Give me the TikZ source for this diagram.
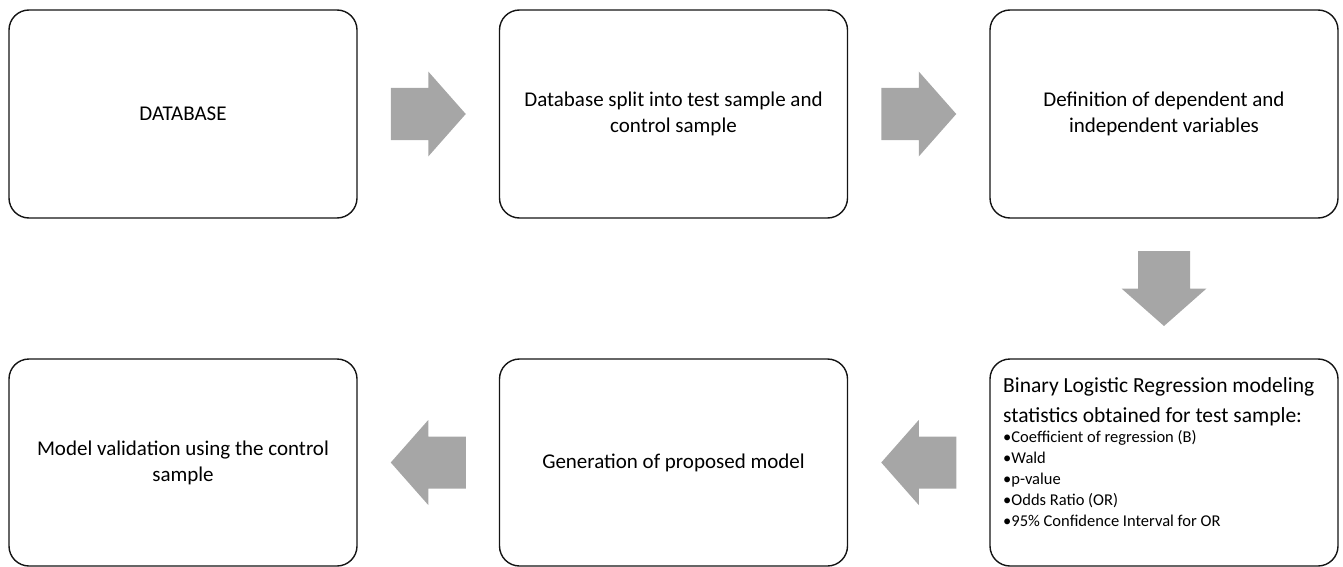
\documentclass[tikz,border=0pt]{standalone}
\usepackage{fontspec}
\setmainfont{Carlito}
\usetikzlibrary{calc}
\definecolor{arrowgray}{RGB}{166,166,166}
\definecolor{edgecol}{RGB}{20,20,20}
\tikzset{
  box/.style={draw=edgecol, line width=1.4pt, rounded corners=20pt, minimum width=348pt, minimum height=208pt, align=center, font=\fontsize{21}{26}\selectfont, inner sep=0pt},
  blockarrow/.pic={\fill[arrowgray] (-37.5,-26) -- (0,-26) -- (0,-42.5) -- (37.5,0) -- (0,42.5) -- (0,26) -- (-37.5,26) -- cycle;}
}
\begin{document}
\begin{tikzpicture}[x=1pt,y=1pt]
\useasboundingbox (0,0) rectangle (1343,-567);
% top row
\node[box] (b1) at (183,-114) {DATABASE};
\node[box] (b2) at (673.5,-114) {Database split into test sample and\\control sample};
\node[box] (b3) at (1164,-114) {Definition of dependent and\\independent variables};
% bottom row
\node[box, minimum height=207pt] (b4) at (183,-462.5) {Model validation using the control\\sample};
\node[box, minimum height=207pt] (b5) at (673.5,-462.5) {Generation of proposed model};
\node[box, minimum height=207pt] (b6) at (1164,-462.5) {};
\node[anchor=north west, align=left, inner sep=0pt, font=\fontsize{21.5}{30}\selectfont] (b6h) at (1003,-377) {Binary Logistic Regression modeling\\statistics obtained for test sample:};
\node[anchor=north west, align=left, inner sep=0pt, font=\fontsize{16.5}{21}\selectfont] (b6l) at ($(b6h.south west)+(0,-4)$) {•Coefficient of regression (B)\\•Wald\\•p-value\\•Odds Ratio (OR)\\•95\% Confidence Interval for OR};
% block arrows
\pic at ($(b1.east)!0.5!(b2.west)$) {blockarrow};
\pic at ($(b2.east)!0.5!(b3.west)$) {blockarrow};
\pic[rotate=-90] at ($(b3.south)!0.5!(b6.north)$) {blockarrow};
\pic[rotate=180] at ($(b5.east)!0.5!(b6.west)$) {blockarrow};
\pic[rotate=180] at ($(b4.east)!0.5!(b5.west)$) {blockarrow};
\end{tikzpicture}
\end{document}
